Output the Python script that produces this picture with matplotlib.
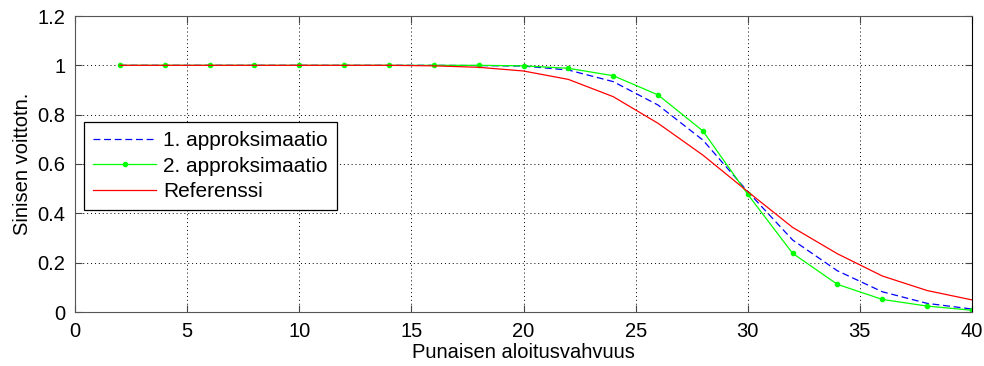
import matplotlib
matplotlib.use("Agg")
import matplotlib.pyplot as plt

# luettu kuvasta
x = [2, 4, 6, 8, 10, 12, 14, 16, 18, 20, 22, 24, 26, 28, 30, 32, 34, 36, 38, 40]
approx1 = [1, 1, 1, 1, 1, 1, 1, 1, 0.999, 0.997, 0.981, 0.934, 0.839, 0.697,
           0.488, 0.292, 0.167, 0.082, 0.035, 0.012]
approx2 = [1, 1, 1, 1, 1, 1, 1, 1, 1.0, 0.998, 0.988, 0.958, 0.880, 0.734,
           0.477, 0.238, 0.112, 0.051, 0.024, 0.007]
ref = [1, 1, 1, 1, 1, 1, 1, 0.998, 0.992, 0.977, 0.943, 0.873, 0.765, 0.636,
       0.488, 0.343, 0.236, 0.146, 0.087, 0.049]

plt.rcParams['font.family'] = ['Liberation Sans', 'DejaVu Sans']
plt.rcParams['font.size'] = 14.5

fig = plt.figure(figsize=(9.84, 3.66), dpi=100)
ax = fig.add_axes([75/984, 1 - 312/366, 897/984, 296/366])

ax.plot(x, approx1, color='blue', lw=0.9, dashes=(5.5, 3), label='1. approksimaatio')
ax.plot(x, approx2, color='#00ff00', lw=0.9, marker='.', markersize=6,
        label='2. approksimaatio')
ax.plot(x, ref, color='red', lw=0.9, label='Referenssi')

ax.set_xlim(0, 40)
ax.set_ylim(0, 1.2)
ax.set_xticks(range(0, 41, 5))
ax.set_yticks([0, 0.2, 0.4, 0.6, 0.8, 1.0, 1.2])
ax.set_yticklabels(['0', '0.2', '0.4', '0.6', '0.8', '1', '1.2'])
ax.grid(True, color='black', linestyle=(0, (1, 3)), lw=0.7)
ax.tick_params(direction='in', length=5, width=0.8, color='#444444', pad=7,
               top=True, right=True)
for side in ax.spines:
    ax.spines[side].set_color('#555555')
ax.spines['right'].set_color('black')

ax.set_xlabel('Punaisen aloitusvahvuus', labelpad=2)
ax.set_ylabel('Sinisen voittotn.', labelpad=4)

leg = ax.legend(loc='upper left', bbox_to_anchor=(0.01, 0.642), borderaxespad=0,
                fancybox=False, framealpha=1, edgecolor='black', fontsize=15,
                handlelength=3.0, handletextpad=0.35, labelspacing=0.3,
                borderpad=0.45)
leg.get_frame().set_linewidth(0.9)

fig.savefig('out.png', dpi=100)
